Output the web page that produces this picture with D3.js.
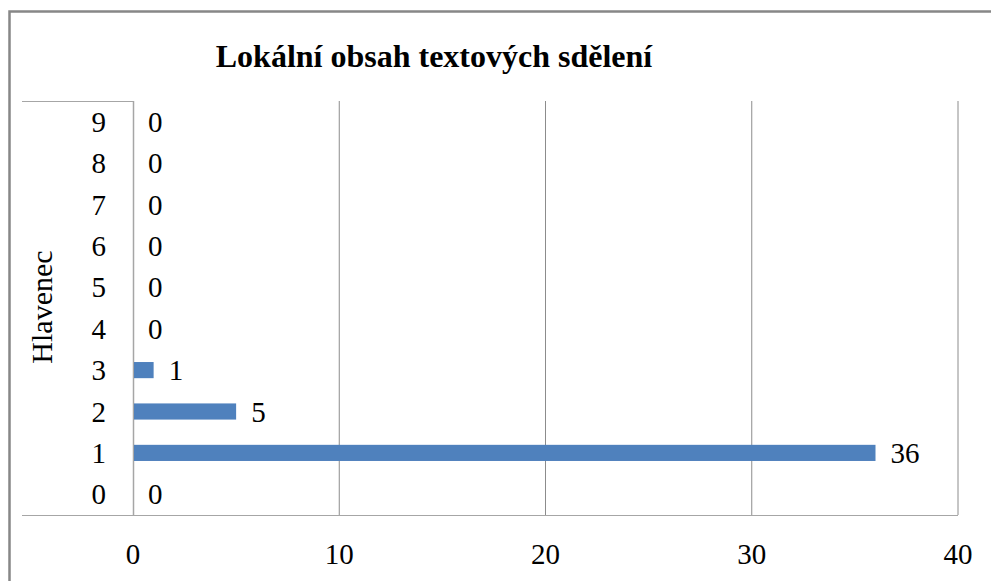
<!DOCTYPE html>
<html>
<head>
<meta charset="utf-8">
<script src="https://cdn.jsdelivr.net/npm/d3@7"></script>
<style>
  body { margin: 0; background: #fff; }
  svg { display: block; }
</style>
</head>
<body>
<svg id="chart" width="991" height="581"></svg>
<script>
// chart data
var categories = ["0", "1", "2", "3", "4", "5", "6", "7", "8", "9"];
var counts = [0, 36, 5, 1, 0, 0, 0, 0, 0, 0];
var xTicks = [0, 10, 20, 30, 40];
var chartTitle = "Lokální obsah textových sdělení";
var axisTitle = "Hlavenec";

const FONT = "'Times New Roman', 'Liberation Serif', 'DejaVu Serif', serif";

var svg = d3.select("#chart")
    .style("font-family", FONT);

const plot = {left: 133, right: 958, top: 101, bottom: 515};

// outer frame (only top and left visible)
svg.append("rect")
    .attr("x", 9.5).attr("y", 11.5)
    .attr("width", 1000).attr("height", 600)
    .attr("fill", "none")
    .attr("stroke", "#878787")
    .attr("stroke-width", 2.5);

var xScale = d3.scaleLinear()
    .domain([0, 40])
    .range([plot.left, plot.right]);

var yScale = d3.scaleBand()
    .domain(categories.slice().reverse())
    .range([plot.top, plot.bottom])
    .paddingInner(0.61)
    .paddingOuter(0.305);

// gridlines
svg.append("g")
    .selectAll("line")
    .data(xTicks.slice(1))
    .enter()
    .append("line")
    .attr("x1", d => xScale(d)).attr("x2", d => xScale(d))
    .attr("y1", plot.top).attr("y2", plot.bottom)
    .attr("stroke", "#8c8c8c")
    .attr("stroke-width", 1);

// category box lines
svg.append("line")
    .attr("x1", 22).attr("x2", plot.left)
    .attr("y1", plot.top + 0.5).attr("y2", plot.top + 0.5)
    .attr("stroke", "#a6a6a6");
svg.append("line")
    .attr("x1", 22).attr("x2", plot.right)
    .attr("y1", plot.bottom + 0.5).attr("y2", plot.bottom + 0.5)
    .attr("stroke", "#a6a6a6");
svg.append("line")
    .attr("x1", plot.left + 0.5).attr("x2", plot.left + 0.5)
    .attr("y1", plot.top).attr("y2", plot.bottom)
    .attr("stroke", "#a6a6a6")
    .attr("stroke-width", 1.5);

// bars
svg.append("g")
    .selectAll("rect")
    .data(categories)
    .enter()
    .append("rect")
    .attr("x", xScale(0) + 1)
    .attr("y", (d) => yScale(d))
    .attr("width", (d, i) => Math.max(0, xScale(counts[i]) - xScale(0) - 1))
    .attr("height", yScale.bandwidth())
    .attr("fill", "#4f81bd");

// data labels
svg.append("g")
    .selectAll("text")
    .data(categories)
    .enter()
    .append("text")
    .attr("x", (d, i) => xScale(counts[i]) + 15)
    .attr("y", (d) => yScale(d) + yScale.bandwidth() / 2)
    .attr("dy", "0.35em")
    .attr("font-family", FONT)
    .attr("font-size", 29)
    .text((d, i) => counts[i]);

// category labels
svg.append("g")
    .selectAll("text")
    .data(categories)
    .enter()
    .append("text")
    .attr("x", 106)
    .attr("y", (d) => yScale(d) + yScale.bandwidth() / 2)
    .attr("dy", "0.35em")
    .attr("text-anchor", "end")
    .attr("font-family", FONT)
    .attr("font-size", 29)
    .text(d => d);

// x tick labels
svg.append("g")
    .selectAll("text")
    .data(xTicks)
    .enter()
    .append("text")
    .attr("x", d => xScale(d))
    .attr("y", 564)
    .attr("text-anchor", "middle")
    .attr("font-family", FONT)
    .attr("font-size", 29)
    .text(d => d);

// axis title
svg.append("text")
    .attr("transform", "translate(52,307) rotate(-90)")
    .attr("text-anchor", "middle")
    .attr("font-family", FONT)
    .attr("font-size", 30)
    .text(axisTitle);

// title
svg.append("text")
    .attr("x", 434)
    .attr("y", 67)
    .attr("text-anchor", "middle")
    .attr("font-family", FONT)
    .attr("font-size", 32)
    .attr("font-weight", "bold")
    .text(chartTitle);
</script>
</body>
</html>
